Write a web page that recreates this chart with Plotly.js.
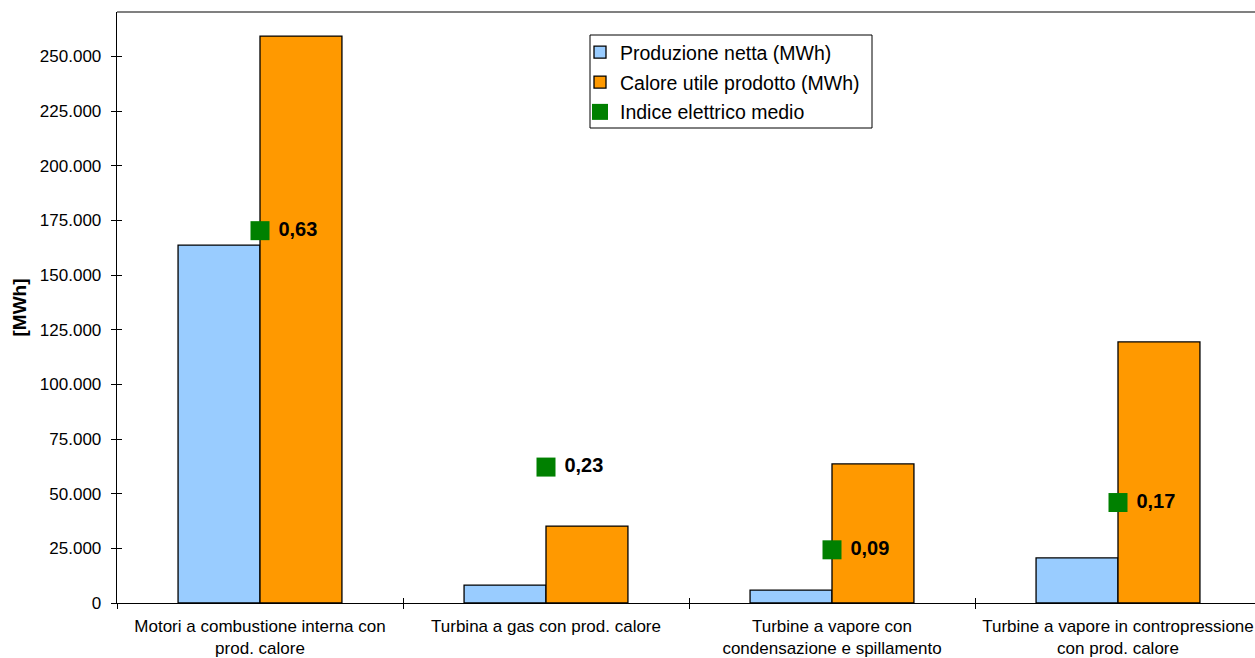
<!DOCTYPE html>
<html>
<head>
<meta charset="utf-8">
<script src="https://cdn.plot.ly/plotly-3.0.1.min.js"></script>
<style>
html,body{margin:0;padding:0;background:#fff;overflow:hidden;}
#chart{width:1255px;height:658px;}
</style>
</head>
<body>
<div id="chart"></div>
<script>
const categories = [
  "Motori a combustione interna con<br>prod. calore",
  "Turbina a gas con prod. calore",
  "Turbine a vapore con<br>condensazione e spillamento",
  "Turbine a vapore in contropressione<br>con prod. calore"
];
const produzioneNetta = [163700, 8200, 5900, 20600];
const caloreUtile = [259300, 35200, 63600, 119400];
const indiceElettrico = [0.63, 0.23, 0.09, 0.17];
const indiceLabels = ["0,63", "0,23", "0,09", "0,17"];
const yTickVals = [0, 25000, 50000, 75000, 100000, 125000, 150000, 175000, 200000, 225000, 250000];

const FONT = "Liberation Sans, Arial, sans-serif";

const traces = [
  {
    type: "bar", name: "Produzione netta (MWh)", legendgroup: "a",
    x: categories, y: produzioneNetta,
    marker: {color: "#99CCFF", line: {color: "#000000", width: 1.3}},
    hoverinfo: "skip"
  },
  {
    type: "bar", name: "Calore utile prodotto (MWh)", legendgroup: "b",
    x: categories, y: caloreUtile,
    marker: {color: "#FF9900", line: {color: "#000000", width: 1.3}},
    hoverinfo: "skip"
  },
  {
    type: "scatter", mode: "markers+text", name: "Indice elettrico medio", legendgroup: "c",
    x: categories, y: indiceElettrico, yaxis: "y2",
    text: indiceLabels.map(t => " " + t),
    textposition: "middle right",
    textfont: {family: FONT, size: 20, color: "#000000", weight: "bold"},
    marker: {symbol: "square", size: 19, color: "#008000"},
    hoverinfo: "skip", cliponaxis: false
  },
  {
    type: "scatter", mode: "markers", showlegend: false,
    x: categories, y: [null, null, null, null], xaxis: "x2", yaxis: "y3",
    hoverinfo: "skip"
  }
];

const plotRight = 1255, plotLeft = 117, plotTop = 12, plotBottom = 603;
const catWidth = 286;
const xMax = -0.5 + (plotRight - plotLeft) / catWidth;
const px = v => (v - plotLeft) / (plotRight - plotLeft);
const py = v => (plotBottom - v) / (plotBottom - plotTop);

const layout = {
  width: 1255, height: 658,
  margin: {l: 117, r: 0, t: 12, b: 55},
  paper_bgcolor: "#ffffff", plot_bgcolor: "#ffffff",
  separators: ",.",
  font: {family: FONT, color: "#000000"},
  barmode: "group", bargap: 0.427, bargroupgap: 0,
  showlegend: true,
  legend: {
    x: px(580), y: py(33),
    xanchor: "left", yanchor: "top",
    bgcolor: "rgba(0,0,0,0)", borderwidth: 0,
    font: {family: FONT, size: 19.5, color: "#000000"},
    tracegroupgap: 1.5, itemwidth: 30
  },
  xaxis: {
    type: "category", categoryorder: "array", categoryarray: categories,
    range: [-0.5, xMax],
    tickson: "boundaries", ticks: "outside", ticklen: 5, tickcolor: "#000",
    ticklabelstandoff: 7,
    showline: true, linecolor: "#000000", linewidth: 1.3,
    showgrid: false, zeroline: false,
    tickfont: {family: FONT, size: 17, color: "#000000"},
    fixedrange: true
  },
  xaxis2: {
    type: "category", categoryorder: "array", categoryarray: categories,
    overlaying: "x", matches: "x", anchor: "y3",
    tickson: "boundaries", ticks: "inside", ticklen: 5, tickcolor: "#000",
    showticklabels: false, showline: false, showgrid: false, zeroline: false
  },
  yaxis: {
    range: [0, 270300],
    tickvals: yTickVals, tickformat: ",d",
    ticks: "outside", ticklen: 5, tickcolor: "#000",
    ticklabelstandoff: 6,
    showline: true, linecolor: "#000000", linewidth: 1.3,
    showgrid: false, zeroline: false,
    tickfont: {family: FONT, size: 17, color: "#000000"},
    title: {text: "<b>[MWh]</b>", font: {family: FONT, size: 19, color: "#000"}, standoff: 8},
    fixedrange: true
  },
  yaxis2: {
    range: [0, 1], overlaying: "y", side: "right", visible: false, showgrid: false, zeroline: false
  },
  yaxis3: {
    range: [0, 270300], overlaying: "y", matches: "y", anchor: "x2",
    tickvals: yTickVals, ticks: "inside", ticklen: 5, tickcolor: "#000",
    showticklabels: false, showline: false, showgrid: false, zeroline: false
  },
  shapes: [
    {type: "line", xref: "paper", yref: "paper", x0: 0, x1: 1, y0: 1, y1: 1,
     line: {color: "#808080", width: 2}},
    {type: "rect", xref: "paper", yref: "paper", x0: px(590), x1: px(872), y0: py(128), y1: py(35),
     fillcolor: "#ffffff", line: {color: "#000000", width: 1}, layer: "above"}
  ]
};

Plotly.newPlot("chart", traces, layout, {displayModeBar: false, staticPlot: true});
</script>
</body>
</html>
